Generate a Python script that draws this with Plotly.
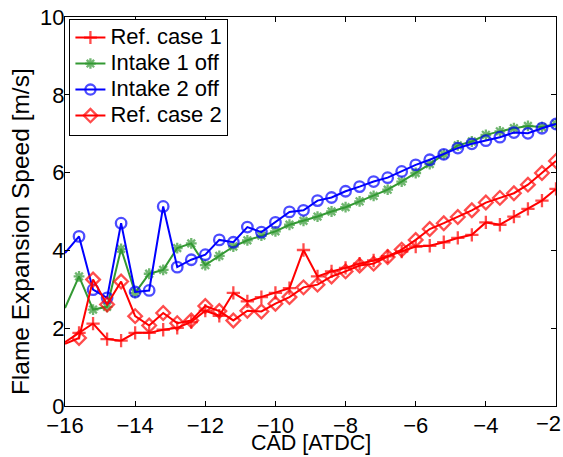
import plotly.graph_objects as go

# Crank angle grid (CAD, ATDC)
cad = [-16.0, -15.6, -15.2, -14.8, -14.4, -14.0, -13.6, -13.2, -12.8, -12.4,
       -12.0, -11.6, -11.2, -10.8, -10.4, -10.0, -9.6, -9.2, -8.8, -8.4,
       -8.0, -7.6, -7.2, -6.8, -6.4, -6.0, -5.6, -5.2, -4.8, -4.4,
       -4.0, -3.6, -3.2, -2.8, -2.4, -2.0]

# Flame expansion speed [m/s] per case
ref_case_1 = [1.64, 1.88, 2.12, 1.72, 1.68, 1.88, 1.88, 1.96, 2.01, 2.16,
              2.45, 2.32, 2.91, 2.69, 2.80, 2.91, 3.03, 4.01, 3.33, 3.46,
              3.55, 3.66, 3.74, 3.85, 3.97, 4.10, 4.12, 4.21, 4.32, 4.40,
              4.72, 4.66, 4.87, 5.07, 5.28, 5.58]
intake_1_off = [2.52, 3.33, 2.48, 2.55, 4.04, 2.91, 3.40, 3.50, 4.06, 4.18,
                3.62, 3.86, 4.10, 4.26, 4.38, 4.49, 4.66, 4.76, 4.87, 5.00,
                5.11, 5.26, 5.40, 5.56, 5.77, 5.99, 6.22, 6.47, 6.70, 6.80,
                6.97, 7.06, 7.14, 7.20, 7.17, 7.25]
intake_2_off = [3.93, 4.36, 2.99, 2.78, 4.70, 2.93, 2.97, 5.13, 3.57, 3.76,
                3.89, 4.27, 4.21, 4.60, 4.47, 4.72, 4.99, 5.03, 5.28, 5.36,
                5.52, 5.64, 5.77, 5.87, 6.03, 6.20, 6.33, 6.47, 6.63, 6.74,
                6.82, 6.91, 7.03, 7.01, 7.14, 7.25]
ref_case_2 = [1.60, 1.75, 3.25, 2.61, 3.20, 2.31, 2.07, 2.39, 2.13, 2.20,
              2.57, 2.44, 2.20, 2.45, 2.43, 2.63, 2.80, 3.05, 3.12, 3.33,
              3.46, 3.61, 3.66, 3.83, 4.02, 4.27, 4.55, 4.70, 4.86, 5.03,
              5.23, 5.35, 5.47, 5.69, 5.99, 6.30]

x_ticks = [-16, -14, -12, -10, -8, -6, -4, -2]
x_tick_text = ["\u221216", "\u221214", "\u221212", "\u221210", "\u22128",
               "\u22126", "\u22124", ""]
y_ticks = [0, 2, 4, 6, 8, 10]

x_title = "CAD [ATDC]"
y_title = "Flame Expansion Speed [m/s]"

series = [
    ("Ref. case 1", ref_case_1, "rgb(255,0,0)", "cross-thin-open", 9.5),
    ("Intake 1 off", intake_1_off, "rgb(51,153,51)", "asterisk-open", 9),
    ("Intake 2 off", intake_2_off, "rgb(0,0,255)", "circle-open", 10.5),
    ("Ref. case 2", ref_case_2, "rgb(255,0,0)", "diamond-open", 10.5),
]

FONT = "Liberation Sans, Arial, Helvetica, sans-serif"

fig = go.Figure()
for name, vals, color, symbol, msize in series:
    # the first sample sits on the left frame edge; its marker is not shown
    sizes = [0] + [msize] * (len(cad) - 1)
    fig.add_trace(go.Scatter(
        x=cad, y=vals,
        name=f"<span style='font-size:22px'>{name}</span>",
        mode="lines+markers",
        line=dict(color=color, width=2),
        marker=dict(symbol=symbol, size=sizes, color=color,
                    line=dict(color=color, width=2.3)),
    ))

axis_common = dict(
    showline=True, linecolor="black", linewidth=1, mirror="ticks",
    ticks="inside", ticklen=5, tickwidth=1, tickcolor="black",
    showgrid=False, zeroline=False, automargin=False,
    tickfont=dict(family=FONT, size=22, color="black"),
)

# last x tick label: right-aligned so it stays inside the figure
fig.add_annotation(
    x=x_ticks[-1], xref="x", y=0, yref="paper",
    text=f"\u2212{abs(x_ticks[-1])}", showarrow=False,
    xanchor="right", yanchor="middle", xshift=7, yshift=-17,
    font=dict(family=FONT, size=22, color="black"),
)
# axis titles
fig.add_annotation(
    x=0.5, xref="paper", y=0, yref="paper",
    text=x_title, showarrow=False,
    xanchor="center", yanchor="middle", yshift=-37,
    font=dict(family=FONT, size=21.5, color="black"),
)
fig.add_annotation(
    x=0, xref="paper", y=0.447, yref="paper",
    text=y_title, textangle=-90, showarrow=False,
    xanchor="center", yanchor="middle", xshift=-45,
    font=dict(family=FONT, size=24.5, color="black"),
)

fig.update_layout(
    width=563, height=457,
    margin=dict(l=65, r=7, t=17, b=51, autoexpand=False),
    paper_bgcolor="white", plot_bgcolor="white",
    font=dict(family=FONT, size=22, color="black"),
    xaxis=dict(range=[-16, -2], tickvals=x_ticks, ticktext=x_tick_text,
               ticklabelstandoff=0, **axis_common),
    yaxis=dict(range=[0, 10], tickvals=y_ticks, ticklabelstandoff=-5,
               **axis_common),
    legend=dict(x=0.009, y=0.996, xanchor="left", yanchor="top",
                bgcolor="white", bordercolor="black", borderwidth=1,
                font=dict(family=FONT, size=17.7, color="black"),
                tracegroupgap=0, itemwidth=30),
    showlegend=True,
)

fig.write_html("out.html")
